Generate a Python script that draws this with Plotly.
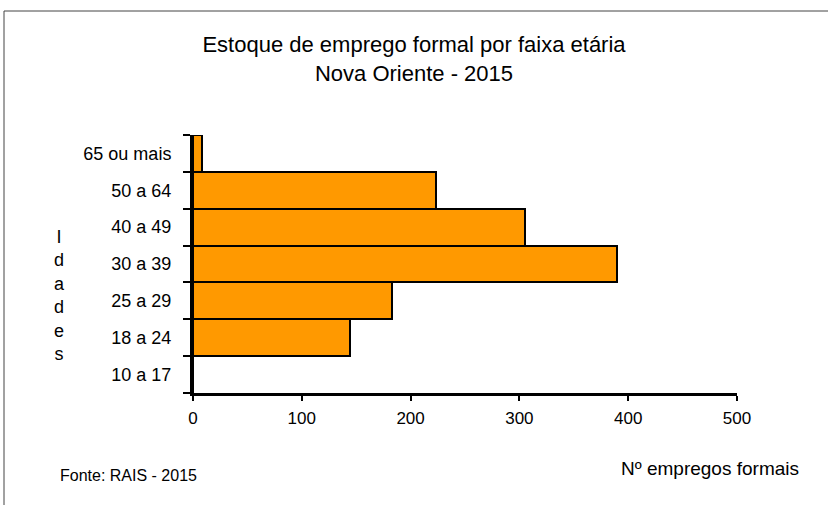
import plotly.graph_objects as go

# faixas etárias (de baixo para cima) e estoque de empregos
faixas = ["10 a 17", "18 a 24", "25 a 29", "30 a 39", "40 a 49", "50 a 64", "65 ou mais"]
empregos = [0, 144, 183, 390, 305, 223, 8]
x_ticks = [0, 100, 200, 300, 400, 500]

FONT = "Liberation Sans, Arial, sans-serif"

# area do grafico em pixels
W, H = 828, 505
L, R, T, B = 193, 737, 135, 393


def px_x(p):
    return (p - L) / (R - L)


def px_y(p):
    return (B - p) / (B - T)


bars = go.Bar(
    x=empregos,
    y=faixas,
    orientation="h",
    marker=dict(color="#FF9900", line=dict(color="black", width=2)),
    hoverinfo="x+y",
)

fig = go.Figure(data=[bars])

fig.update_layout(
    width=W,
    height=H,
    margin=dict(l=L, r=W - R, t=T, b=H - B, pad=0),
    paper_bgcolor="white",
    plot_bgcolor="white",
    bargap=0,
    showlegend=False,
    font=dict(family=FONT, color="black", size=17),
    title=dict(
        text="Estoque de emprego formal por faixa etária<br>Nova Oriente - 2015",
        x=0.5,
        xref="container",
        xanchor="center",
        y=1 - 52 / H,
        yref="container",
        yanchor="top",
        font=dict(family=FONT, size=22, color="black"),
    ),
)

fig.update_xaxes(
    range=[0, 500],
    tickvals=x_ticks,
    showgrid=False,
    zeroline=False,
    showline=True,
    linecolor="black",
    linewidth=3,
    ticks="outside",
    ticklen=5,
    tickwidth=2,
    tickcolor="black",
    ticklabelstandoff=3,
    tickfont=dict(family=FONT, size=17, color="black"),
)

fig.update_yaxes(
    type="category",
    categoryorder="array",
    categoryarray=faixas,
    range=[-0.5, len(faixas) - 0.5],
    showgrid=False,
    zeroline=False,
    showline=True,
    linecolor="black",
    linewidth=3,
    ticks="outside",
    tickson="boundaries",
    ticklen=7,
    tickwidth=2,
    tickcolor="black",
    ticklabelstandoff=15,
    tickfont=dict(family=FONT, size=18, color="black"),
)

# titulo do eixo y com letras empilhadas
fig.add_annotation(
    text="<br>".join("Idades"),
    xref="paper", yref="paper",
    x=px_x(59), y=px_y(295),
    xanchor="center", yanchor="middle",
    showarrow=False,
    font=dict(family=FONT, size=18, color="black"),
)

fig.add_annotation(
    text="Fonte: RAIS - 2015",
    xref="paper", yref="paper",
    x=px_x(58), y=px_y(475),
    xanchor="left", yanchor="middle",
    showarrow=False,
    font=dict(family=FONT, size=16, color="black"),
)

fig.add_annotation(
    text="Nº empregos formais",
    xref="paper", yref="paper",
    x=px_x(801), y=px_y(468),
    xanchor="right", yanchor="middle",
    showarrow=False,
    font=dict(family=FONT, size=19, color="black"),
)

# moldura (apenas topo e lado esquerdo visiveis)
fig.add_shape(type="line", xref="paper", yref="paper",
              x0=px_x(4), y0=px_y(11), x1=px_x(W + 5), y1=px_y(11),
              line=dict(color="#444444", width=1))
fig.add_shape(type="line", xref="paper", yref="paper",
              x0=px_x(4), y0=px_y(11), x1=px_x(4), y1=px_y(H + 5),
              line=dict(color="#444444", width=1))

fig.write_html("out.html", config={"displayModeBar": False},
               post_script="document.body.style.margin = '0px';")
